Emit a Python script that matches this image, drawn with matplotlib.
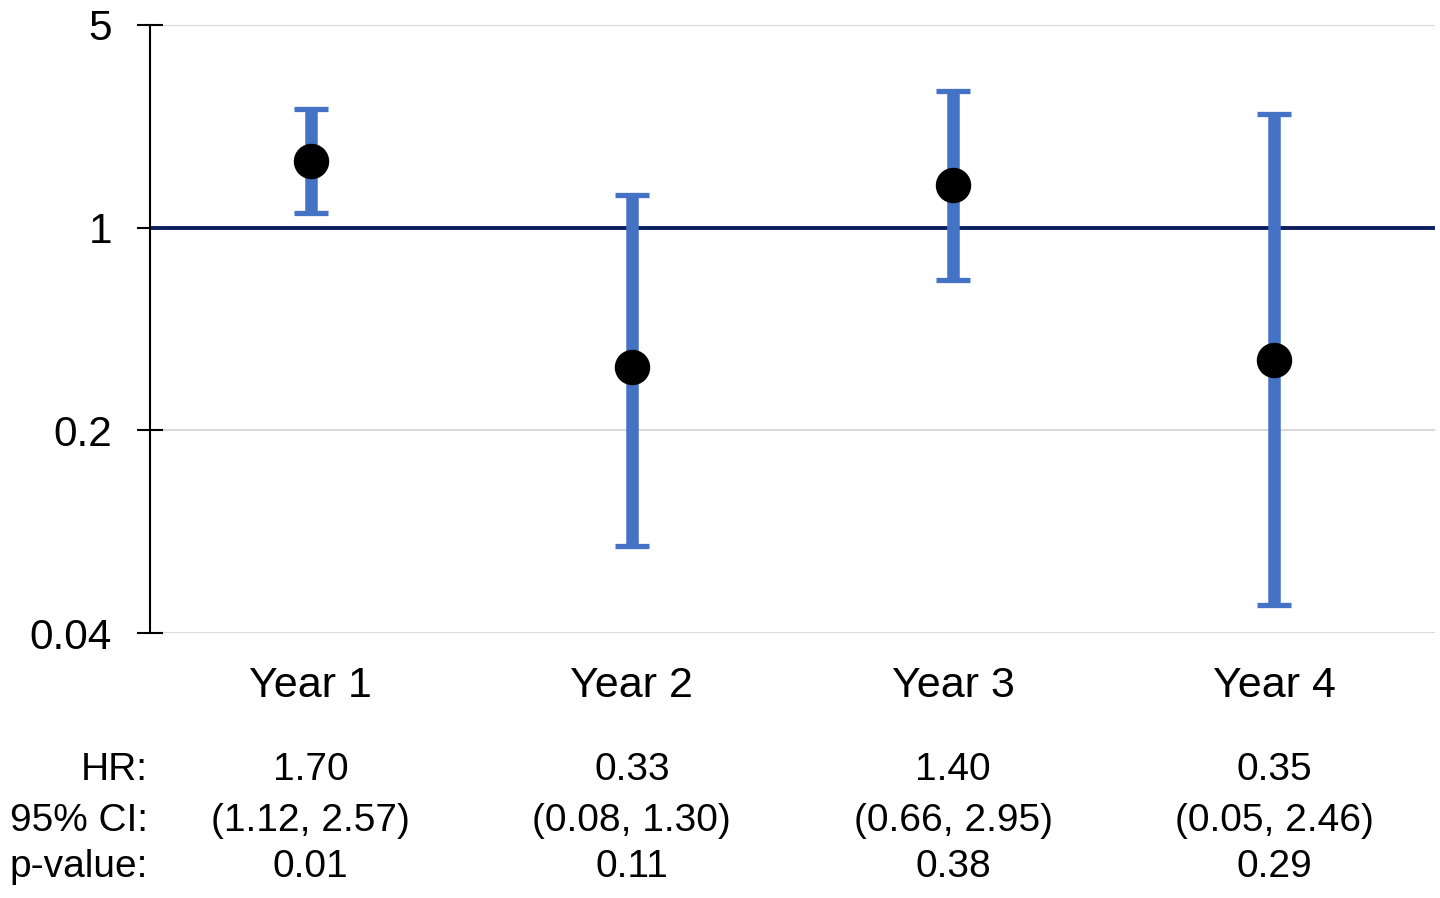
import matplotlib
matplotlib.use("Agg")
import matplotlib.pyplot as plt
from matplotlib.transforms import blended_transform_factory

plt.rcParams['font.family'] = ['Liberation Sans', 'DejaVu Sans']

categories = ["Year 1", "Year 2", "Year 3", "Year 4"]
hr = [1.70, 0.33, 1.40, 0.35]
ci_low = [1.12, 0.08, 0.66, 0.05]
ci_high = [2.57, 1.30, 2.95, 2.46]
hr_text = ["1.70", "0.33", "1.40", "0.35"]
ci_text = ["(1.12, 2.57)", "(0.08, 1.30)", "(0.66, 2.95)", "(0.05, 2.46)"]
p_text = ["0.01", "0.11", "0.38", "0.29"]
yticks = [0.04, 0.2, 1, 5]
ytick_labels = ["0.04", "0.2", "1", "5"]

fig = plt.figure(figsize=(14.4, 8.98), dpi=100)
ax = fig.add_axes([150/1440, 1 - 633/898, 1285/1440, 608/898])

x = [i + 0.5 for i in range(len(categories))]
yerr = [[h - l for h, l in zip(hr, ci_low)], [u - h for h, u in zip(hr, ci_high)]]

ax.set_yscale('log')
ax.set_ylim(0.04, 5)
ax.set_xlim(0, 4)

for t in [0.04, 0.2, 5]:
    ax.axhline(t, color='#d9d9d9', lw=1.5, zorder=1)
ax.axhline(1, color='#0b1f5e', lw=2.8, zorder=2)

ax.errorbar(x, hr, yerr=yerr, fmt='none', ecolor='#4472C4', elinewidth=9.0,
            capsize=12, capthick=3.8, zorder=3)
ax.plot(x, hr, 'o', color='black', markersize=24.5, zorder=4)

ax.set_yticks(yticks)
ax.set_yticklabels(ytick_labels)
ax.yaxis.set_minor_locator(matplotlib.ticker.NullLocator())
ax.tick_params(axis='y', direction='inout', length=18.5, width=1.5, pad=18,
               labelsize=30.5, colors='black')
ax.set_xticks(x)
ax.set_xticklabels(categories)
ax.tick_params(axis='x', length=0, pad=24, labelsize=31)

for s in ['top', 'right', 'bottom']:
    ax.spines[s].set_visible(False)
ax.spines['left'].set_linewidth(1.5)

trans = blended_transform_factory(ax.transData, fig.transFigure)
rows = [("HR:", hr_text, 770), ("95% CI:", ci_text, 821), ("p-value:", p_text, 867)]
for label, vals, ypx in rows:
    yf = 1 - ypx / 898
    fig.text(148/1440, yf, label, ha='right', va='center', fontsize=28)
    for xi, v in zip(x, vals):
        ax.text(xi, yf, v, transform=trans, ha='center', va='center', fontsize=28,
                clip_on=False)

fig.savefig("out.png", dpi=100)
